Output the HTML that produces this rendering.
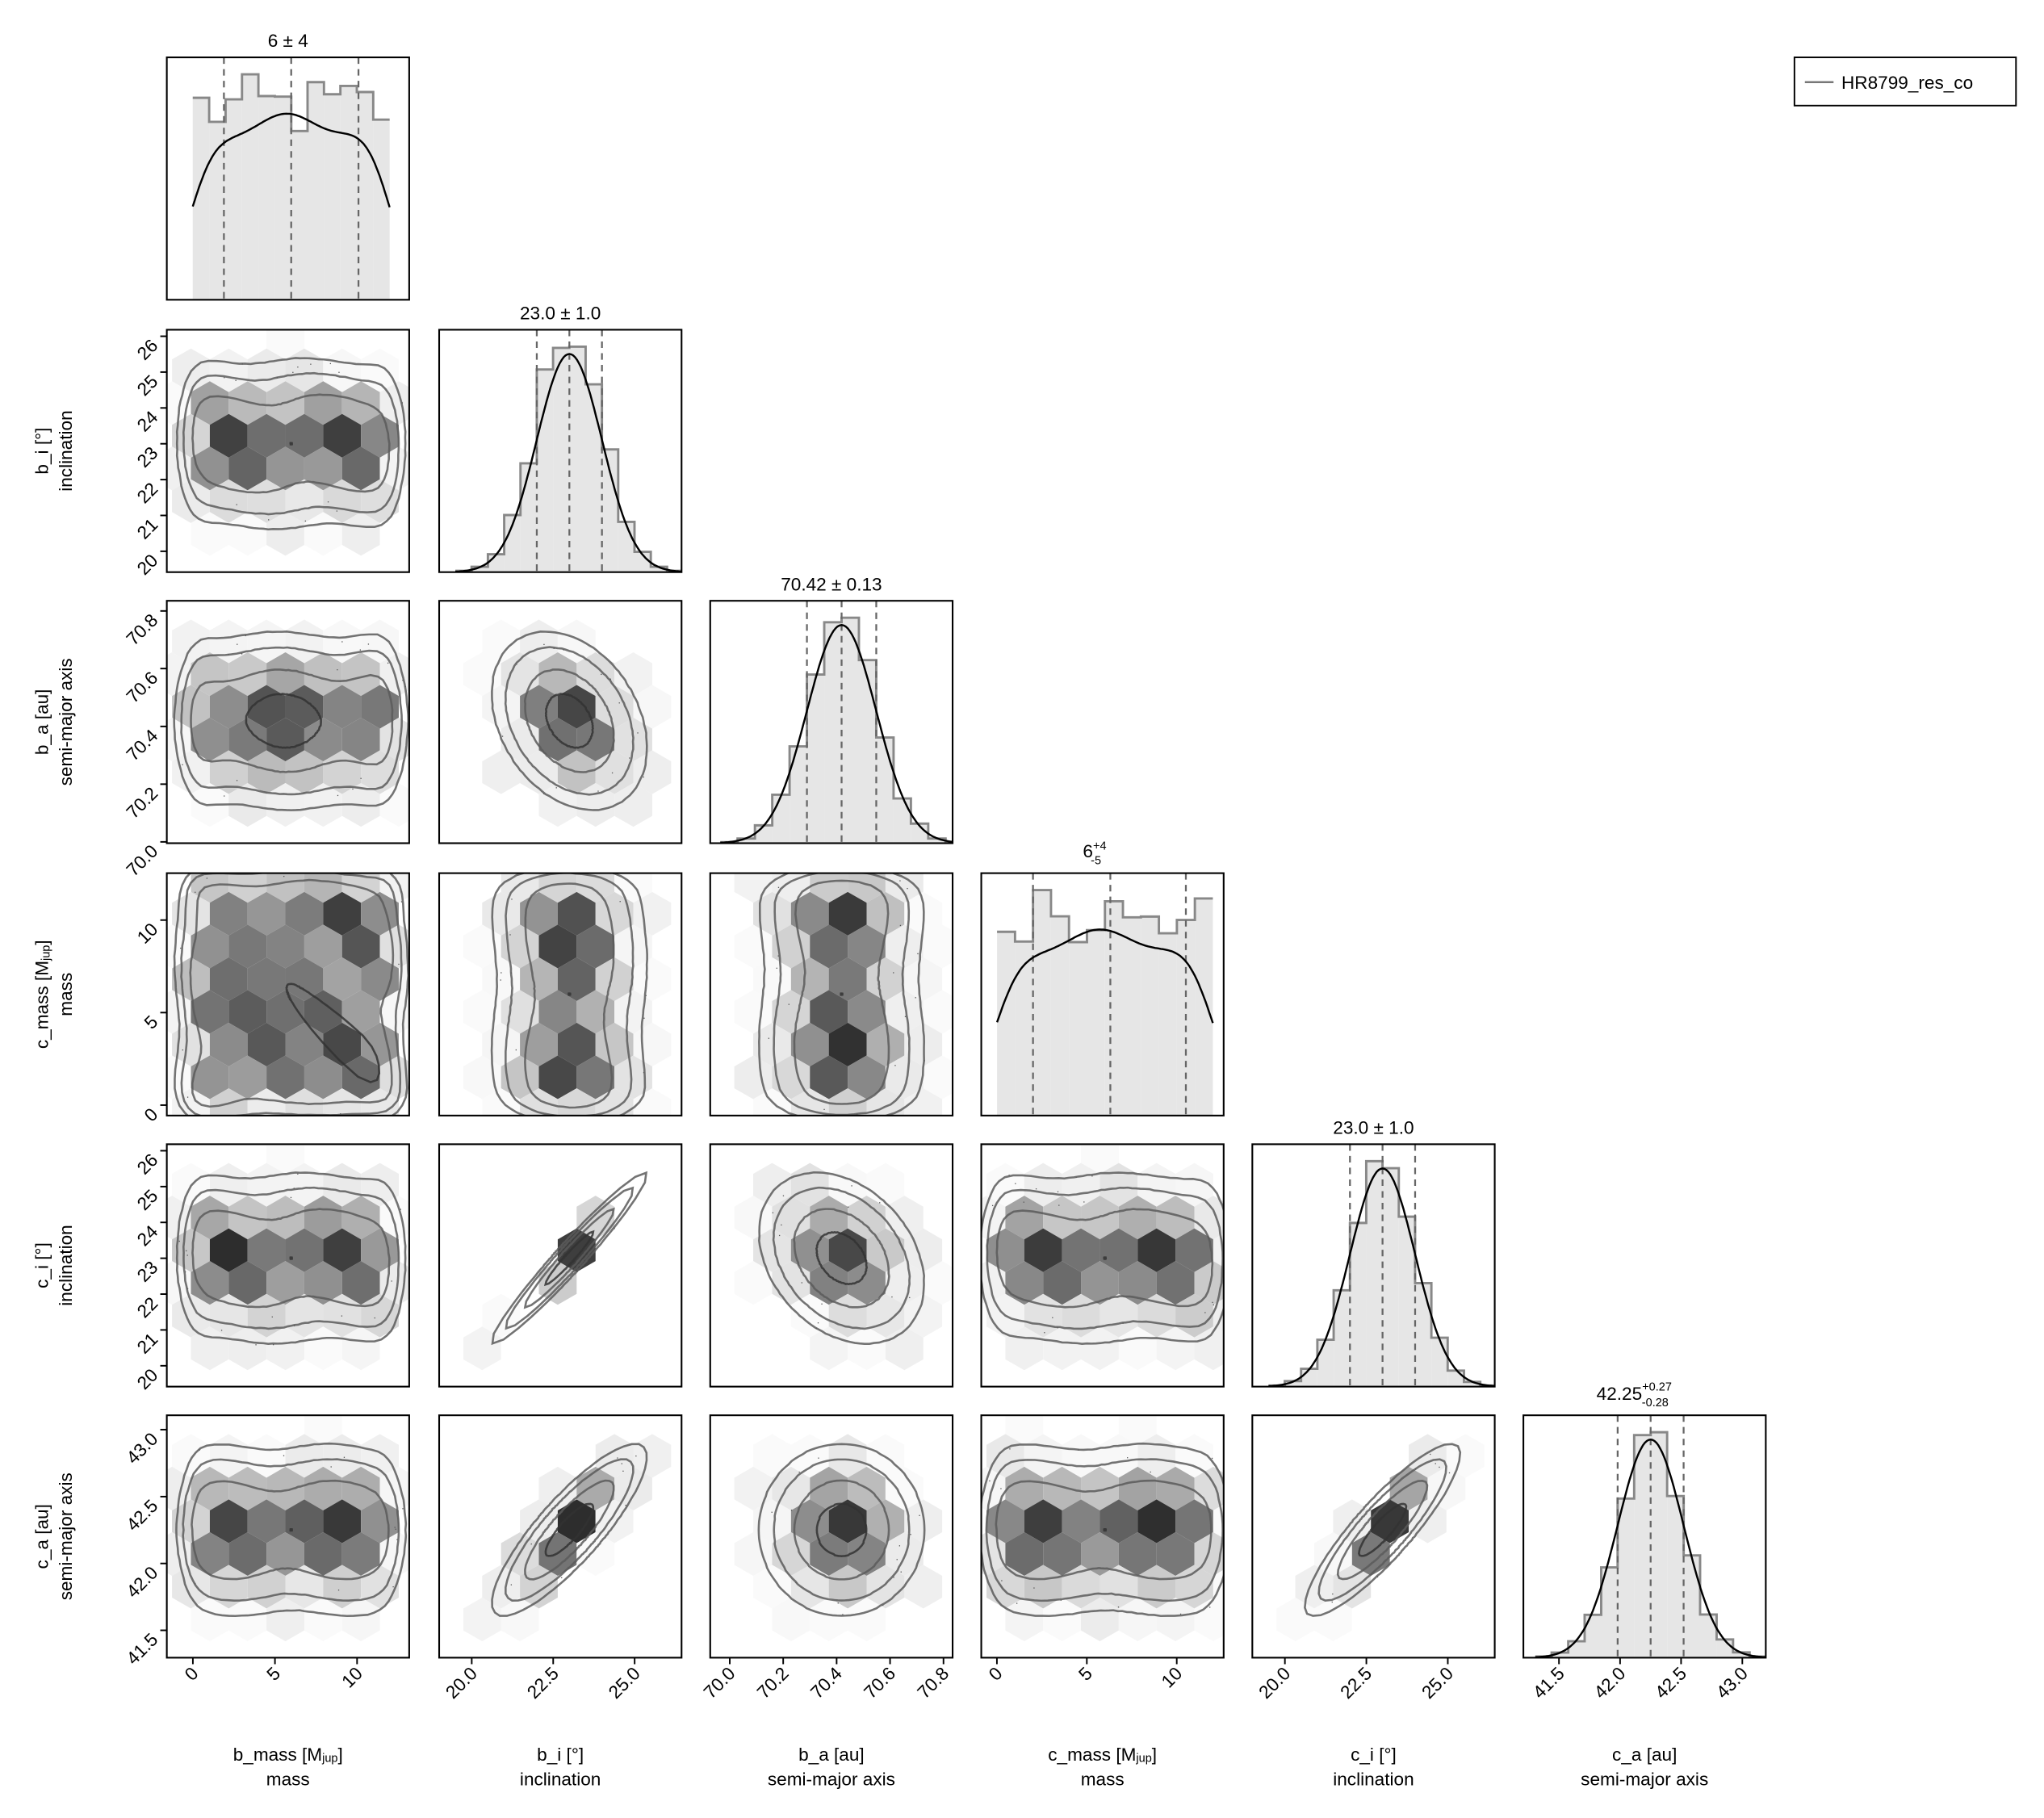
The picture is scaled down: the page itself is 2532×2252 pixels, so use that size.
<!DOCTYPE html>
<html><head><meta charset="utf-8"><style>html,body{margin:0;padding:0;background:#fff}svg{display:block}text{font-family:"Liberation Sans",sans-serif;fill:#000}</style></head>
<body>
<svg id="s" xmlns="http://www.w3.org/2000/svg" viewBox="0 0 1568.5 1395" width="2532" height="2252">
<rect x="0" y="0" width="1568.5" height="1395" fill="#fff"/>
<g id="plots"></g>
<g font-size="14" text-anchor="middle">
<text x="221" y="36">6 ± 4</text>
<text x="430" y="245">23.0 ± 1.0</text>
<text x="638" y="453">70.42 ± 0.13</text>
<text x="840" y="658">6<tspan font-size="9" dy="-6">+4</tspan><tspan font-size="9" dx="-12" dy="11">-5</tspan></text>
<text x="1054" y="870">23.0 ± 1.0</text>
<text x="1254" y="1074">42.25<tspan font-size="9" dy="-7">+0.27</tspan><tspan font-size="9" dx="-23" dy="12">-0.28</tspan></text>
</g>
<g font-size="14" text-anchor="middle">
<text x="221" y="1351">b_mass [M<tspan font-size="9" dy="1">jup</tspan><tspan dy="-1">]</tspan></text><text x="221" y="1370">mass</text>
<text x="430" y="1351">b_i [°]</text><text x="430" y="1370">inclination</text>
<text x="638" y="1351">b_a [au]</text><text x="638" y="1370">semi-major axis</text>
<text x="846" y="1351">c_mass [M<tspan font-size="9" dy="1">jup</tspan><tspan dy="-1">]</tspan></text><text x="846" y="1370">mass</text>
<text x="1054" y="1351">c_i [°]</text><text x="1054" y="1370">inclination</text>
<text x="1262" y="1351">c_a [au]</text><text x="1262" y="1370">semi-major axis</text>
</g>
<g font-size="14" text-anchor="middle">
<text transform="translate(37,346) rotate(-90)">b_i [°]</text><text transform="translate(55,346) rotate(-90)">inclination</text>
<text transform="translate(37,554) rotate(-90)">b_a [au]</text><text transform="translate(55,554) rotate(-90)">semi-major axis</text>
<text transform="translate(37,763) rotate(-90)">c_mass [M<tspan font-size="9" dy="1">jup</tspan><tspan dy="-1">]</tspan></text><text transform="translate(55,763) rotate(-90)">mass</text>
<text transform="translate(37,971) rotate(-90)">c_i [°]</text><text transform="translate(55,971) rotate(-90)">inclination</text>
<text transform="translate(37,1179) rotate(-90)">c_a [au]</text><text transform="translate(55,1179) rotate(-90)">semi-major axis</text>
</g>
<g font-size="14" text-anchor="end">
<text transform="translate(122,431) rotate(-45)">20</text>
<text transform="translate(122,403.5) rotate(-45)">21</text>
<text transform="translate(122,376) rotate(-45)">22</text>
<text transform="translate(122,348.5) rotate(-45)">23</text>
<text transform="translate(122,321) rotate(-45)">24</text>
<text transform="translate(122,293.5) rotate(-45)">25</text>
<text transform="translate(122,266) rotate(-45)">26</text>
<text transform="translate(122,654) rotate(-45)">70.0</text>
<text transform="translate(122,609.7) rotate(-45)">70.2</text>
<text transform="translate(122,565.4) rotate(-45)">70.4</text>
<text transform="translate(122,521) rotate(-45)">70.6</text>
<text transform="translate(122,476.8) rotate(-45)">70.8</text>
<text transform="translate(122,856) rotate(-45)">0</text>
<text transform="translate(122,785) rotate(-45)">5</text>
<text transform="translate(122,714) rotate(-45)">10</text>
<text transform="translate(122,1056) rotate(-45)">20</text>
<text transform="translate(122,1028.5) rotate(-45)">21</text>
<text transform="translate(122,1001) rotate(-45)">22</text>
<text transform="translate(122,973.5) rotate(-45)">23</text>
<text transform="translate(122,946) rotate(-45)">24</text>
<text transform="translate(122,918.5) rotate(-45)">25</text>
<text transform="translate(122,891) rotate(-45)">26</text>
<text transform="translate(122,1259) rotate(-45)">41.5</text>
<text transform="translate(122,1207.7) rotate(-45)">42.0</text>
<text transform="translate(122,1156.4) rotate(-45)">42.5</text>
<text transform="translate(122,1105) rotate(-45)">43.0</text>
</g>
<g font-size="14" text-anchor="end">
<text transform="translate(153,1285) rotate(-45)">0</text>
<text transform="translate(216,1285) rotate(-45)">5</text>
<text transform="translate(279,1285) rotate(-45)">10</text>
<text transform="translate(367,1285) rotate(-45)">20.0</text>
<text transform="translate(429.5,1285) rotate(-45)">22.5</text>
<text transform="translate(492,1285) rotate(-45)">25.0</text>
<text transform="translate(565,1285) rotate(-45)">70.0</text>
<text transform="translate(606,1285) rotate(-45)">70.2</text>
<text transform="translate(647,1285) rotate(-45)">70.4</text>
<text transform="translate(688,1285) rotate(-45)">70.6</text>
<text transform="translate(729,1285) rotate(-45)">70.8</text>
<text transform="translate(770,1285) rotate(-45)">0</text>
<text transform="translate(839,1285) rotate(-45)">5</text>
<text transform="translate(908,1285) rotate(-45)">10</text>
<text transform="translate(991,1285) rotate(-45)">20.0</text>
<text transform="translate(1053.5,1285) rotate(-45)">22.5</text>
<text transform="translate(1116,1285) rotate(-45)">25.0</text>
<text transform="translate(1201.3,1285) rotate(-45)">41.5</text>
<text transform="translate(1248.2,1285) rotate(-45)">42.0</text>
<text transform="translate(1295,1285) rotate(-45)">42.5</text>
<text transform="translate(1342,1285) rotate(-45)">43.0</text>
</g>
<rect x="1377" y="44" width="170" height="37" fill="#fff" stroke="#000" stroke-width="1.2"/>
<line x1="1385" y1="63" x2="1407" y2="63" stroke="#777" stroke-width="1.6"/>
<text x="1413" y="68" font-size="14">HR8799_res_co</text>
</svg>
<script>
(function(){
var NS='http://www.w3.org/2000/svg',G=document.getElementById('plots'),S=document.getElementById('s');
var seed=12345;function rnd(){seed=(seed*1103515245+12345)%2147483648;return seed/2147483648;}
function el(t,a,p){var e=document.createElementNS(NS,t);for(var k in a)e.setAttribute(k,a[k]);(p||G).appendChild(e);return e;}
var V={
bm:{p:1,lo:0,hi:12,xa:.107,xb:.0677,x0:0,m:6},
bi:{m:23,s:1,xa:.134,xb:.1344,x0:20,ya:.086,yb:.148,y0:20},
ba:{m:70.42,s:.13,xa:.08,xb:1.1,x0:70,ya:.005,yb:1.19,y0:70},
cm:{p:1,lo:0,hi:12,xa:.065,xb:.0742,x0:0,ya:.043,yb:.0763,y0:0,m:6},
ci:{m:23,s:1,xa:.134,xb:.1344,x0:20,ya:.086,yb:.148,y0:20},
ca:{m:42.25,s:.27,xa:.147,xb:.504,x0:41.5,ya:.113,yb:.552,y0:41.5}};
var R={'bici':.97,'bica':.85,'cica':.88,'biba':-.3,'baci':-.3,'baca':0};
var cols=['bm','bi','ba','cm','ci','ca'];
function sig(x){return 1/(1+Math.exp(-x));}
function marg(k,v,sm){var d=V[k];if(d.p){sm=sm||.4;return sig((v-d.lo)/sm)*sig((d.hi-v)/sm);}var z=(v-d.m)/d.s;return Math.exp(-z*z/2);}
function joint(a,b,va,vb){var r=R[a+b];if(r===undefined)r=R[b+a];if(r===undefined)r=0;var A=V[a],B=V[b];
 if(!A.p&&!B.p){var za=(va-A.m)/A.s,zb=(vb-B.m)/B.s;return Math.exp(-(za*za-2*r*za*zb+zb*zb)/(2*(1-r*r)));}
 var f=marg(a,va)*marg(b,vb);
 if(A.p)f*=1+.18*Math.cos(va*0.9+vb);if(B.p)f*=1+.18*Math.cos(vb*0.8+va*0.5);return f;}
var X0=[128,337,545,753,961,1169],Y0=[44,253,461,670,878,1086],W=186;
var defs=el('defs',{},S);
for(var j=0;j<6;j++)for(var i=0;i<=j;i++){
 var X=X0[i],Y=Y0[j],id='c'+i+'_'+j;
 var cp=el('clipPath',{id:id},defs);el('rect',{x:X,y:Y,width:W,height:W},cp);
 var g=el('g',{'clip-path':'url(#'+id+')'});
 if(i==j){
  var k=cols[i],d=V[k],lo,hi,n;
  if(d.p){lo=0;hi=12;n=12;}else{lo=d.m-3.5*d.s;hi=d.m+3.5*d.s;n=14;}
  var xf=function(v){return X+(d.xa+d.xb*(v-d.x0))*W;};
  var hs=[],mx=0;for(var b=0;b<n;b++){var c=lo+(b+.5)*(hi-lo)/n;var h=marg(k,c,.01)*(1+(d.p?.18:.1)*(rnd()-.5)*2);hs.push(h);if(h>mx)mx=h;}
  var path='';var yb=Y+W;
  for(var b=0;b<n;b++){var x1=xf(lo+b*(hi-lo)/n),x2=xf(lo+(b+1)*(hi-lo)/n),yy=yb-hs[b]/mx*.93*W;
   el('rect',{x:x1,y:yy,width:x2-x1,height:yb-yy,fill:'#e6e6e6'},g);
   path+=(b?'L':'M')+x1.toFixed(1)+' '+yy.toFixed(1)+'L'+x2.toFixed(1)+' '+yy.toFixed(1);}
  el('path',{d:path,fill:'none',stroke:'#888','stroke-width':1.8},g);
  var q=d.p?[1.9,6,10.1]:[d.m-d.s,d.m,d.m+d.s];if(k=='cm')q=[2,6.3,10.5];
  q.forEach(function(v){var x=xf(v);el('line',{x1:x,y1:Y,x2:x,y2:Y+W,stroke:'#666','stroke-width':1.4,'stroke-dasharray':'5,4'},g);});
  var kp='',sc=d.p?.74:.9;for(var t=0;t<=120;t++){var v=lo+(hi-lo)*t/120;var kv=d.p?marg(k,v,.9)*(1+.04*Math.cos(v*1.1)):marg(k,v);
   kp+=(t?'L':'M')+xf(v).toFixed(1)+' '+(yb-kv*sc*W).toFixed(1);}
  el('path',{d:kp,fill:'none',stroke:'#000','stroke-width':1.5},g);
 } else {
  var a=cols[i],bv=cols[j],A=V[a],B=V[bv];
  var f=function(u,w){var va=(u-A.xa)/A.xb+A.x0,vb=(w-B.ya)/B.yb+B.y0;return joint(a,bv,va,vb);};
  var mx=0;for(var p=0;p<=50;p++)for(var q2=0;q2<=50;q2++){var v=f(p/50,q2/50);if(v>mx)mx=v;}
  var hw=29,hr=hw/Math.sqrt(3);
  for(var r=-1;r<10;r++)for(var c=-1;c<9;c++){
   var cx=X+c*hw+(r%2?hw/2:0)+4,cy=Y+r*1.5*hr+6;
   var dd=f((cx-X)/W,(Y+W-cy)/W)/mx;if(dd<.012)continue;
   var gv=Math.round(250-200*Math.pow(dd,1.3)+24*(rnd()-.5));gv=Math.max(35,Math.min(250,gv));
   var pts='';for(var m=0;m<6;m++){var an=Math.PI/3*m+Math.PI/6;pts+=(cx+hr*Math.cos(an)).toFixed(1)+','+(cy+hr*Math.sin(an)).toFixed(1)+' ';}
   el('polygon',{points:pts,fill:'rgb('+gv+','+gv+','+gv+')'},g);}
  for(var t=0;t<60;t++){var u=rnd(),w=rnd();if(f(u,w)/mx>.05&&f(u,w)/mx<.3){el('rect',{x:X+u*W,y:Y+W-w*W,width:.8,height:.8,fill:'#555'},g);}}
  var uc=A.xa+A.xb*(A.m-A.x0),wc=B.ya+B.yb*(B.m-B.y0);
  [.06,.15,.4,.78].forEach(function(L,li){var pp='';
   for(var t=0;t<=120;t++){var th=t/120*2*Math.PI,rr=.003;
    while(rr<1.2&&f(uc+rr*Math.cos(th),wc+rr*Math.sin(th))>L*mx)rr+=.003;
    pp+=(t?'L':'M')+(X+(uc+rr*Math.cos(th))*W).toFixed(1)+' '+(Y+W-(wc+rr*Math.sin(th))*W).toFixed(1);}
   el('path',{d:pp+'Z',fill:'none',stroke:li==3?'#333':'#5a5a5a','stroke-width':1.6,'stroke-opacity':.85},g);});
 }
 el('rect',{x:X,y:Y,width:W,height:W,fill:'none',stroke:'#000','stroke-width':1.3});
}
var yt=[[423,395.5,368,340.5,313,285.5,258],[646,601.7,557.4,513,468.8],[848,777,706],[1048,1020.5,993,965.5,938,910.5,883],[1251,1199.7,1148.4,1097]];
yt.forEach(function(a){a.forEach(function(y){el('line',{x1:123,y1:y,x2:128,y2:y,stroke:'#000','stroke-width':1.2});});});
[148,211,274,362,424.5,487,560,601,642,683,724,765,834,903,986,1048.5,1111,1196.3,1243.2,1290,1337].forEach(function(x){el('line',{x1:x,y1:1272,x2:x,y2:1277,stroke:'#000','stroke-width':1.2});});
})();
</script>
</body></html>
